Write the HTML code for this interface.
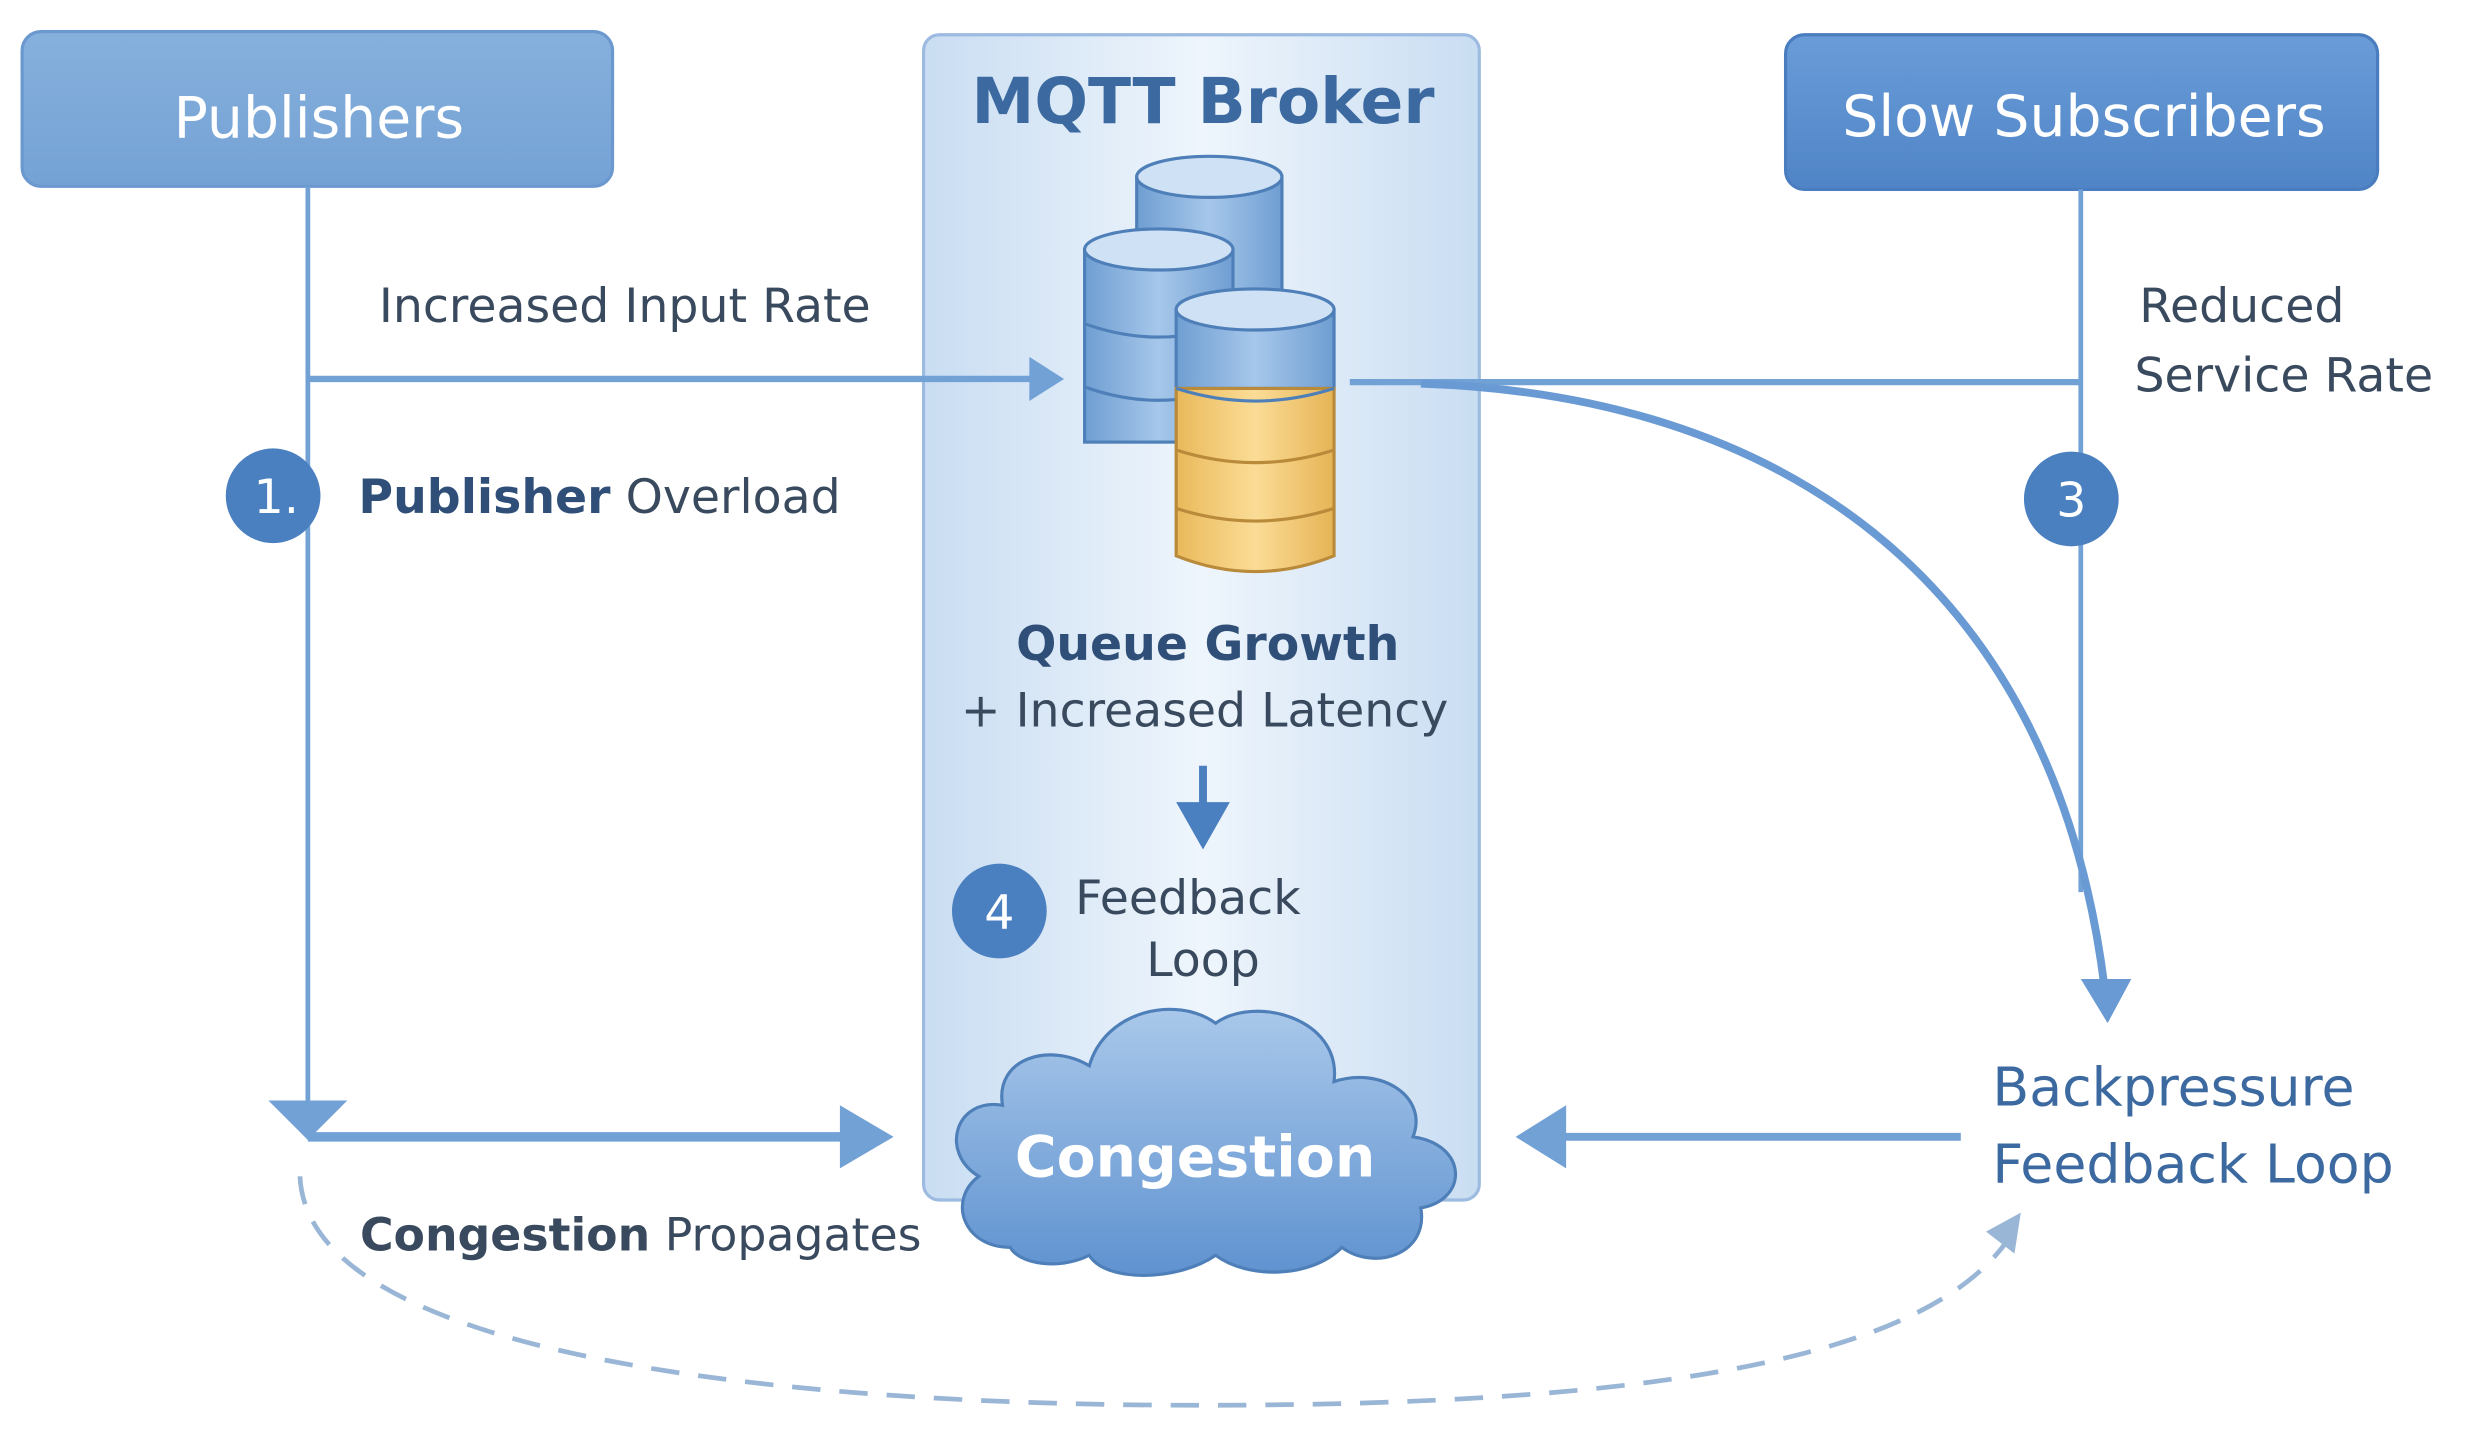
<!DOCTYPE html>
<html><head><meta charset="utf-8"><style>
html,body{margin:0;padding:0;background:#fff;}
svg{display:block;}
text{font-family:"DejaVu Sans","Liberation Sans",sans-serif;}
</style></head><body>
<svg width="2466" height="1440" viewBox="0 0 1562 912" preserveAspectRatio="none" xmlns="http://www.w3.org/2000/svg">
<defs>
<linearGradient id="pub" x1="0" y1="0" x2="0" y2="1"><stop offset="0" stop-color="#86b0dc"/><stop offset="1" stop-color="#74a2d5"/></linearGradient>
<linearGradient id="sub" x1="0" y1="0" x2="0" y2="1"><stop offset="0" stop-color="#6a9cd8"/><stop offset="1" stop-color="#4f84c6"/></linearGradient>
<linearGradient id="panel" x1="0" y1="0" x2="1" y2="0"><stop offset="0" stop-color="#c9ddf2"/><stop offset="0.5" stop-color="#eef5fc"/><stop offset="1" stop-color="#c9ddf2"/></linearGradient>
<linearGradient id="cyl" x1="0" y1="0" x2="1" y2="0"><stop offset="0" stop-color="#6f9ed2"/><stop offset="0.5" stop-color="#a6c7ea"/><stop offset="1" stop-color="#6f9ed2"/></linearGradient>
<linearGradient id="yel" x1="0" y1="0" x2="1" y2="0"><stop offset="0" stop-color="#e9b95a"/><stop offset="0.5" stop-color="#fbdc96"/><stop offset="1" stop-color="#e6b456"/></linearGradient>
<linearGradient id="cloud" x1="0" y1="0" x2="0" y2="1"><stop offset="0" stop-color="#a9c8ea"/><stop offset="1" stop-color="#5f92d0"/></linearGradient>
</defs>
<rect x="585" y="22" width="352" height="738" rx="10" fill="url(#panel)" stroke="#9dbbe0" stroke-width="2"/>
<text x="762" y="78" font-size="40" font-weight="bold" fill="#3c6aa0" text-anchor="middle">MQTT Broker</text>
<rect x="14" y="20" width="374" height="98" rx="12" fill="url(#pub)" stroke="#6a98cf" stroke-width="2"/>
<text x="202" y="87" font-size="36" fill="#fff" text-anchor="middle">Publishers</text>
<rect x="1131" y="22" width="375" height="98" rx="12" fill="url(#sub)" stroke="#4a7dbf" stroke-width="2"/>
<text x="1320" y="86" font-size="36" fill="#fff" text-anchor="middle">Slow Subscribers</text>
<g stroke="#72a1d6" fill="none">
<line x1="195" y1="118" x2="195" y2="700" stroke-width="3"/>
<line x1="195" y1="240" x2="655" y2="240" stroke-width="4"/>
<line x1="855" y1="242" x2="1318" y2="242" stroke-width="4"/>
<line x1="1318" y1="120" x2="1318" y2="565" stroke-width="3"/>
<path d="M900 243 C1120 250 1300 360 1333 625" stroke-width="5" stroke="#6a9ad4"/>
<line x1="195" y1="720" x2="535" y2="720" stroke-width="6"/>
<line x1="990" y1="720" x2="1242" y2="720" stroke-width="5"/>
<line x1="762" y1="485" x2="762" y2="510" stroke-width="5" stroke="#4a7fc0"/>
<path d="M190 745 C195 860 500 890 760 890 C1050 890 1220 860 1272 785" stroke-width="3" stroke="#9ab6d6" stroke-dasharray="18 12"/>
</g>
<g fill="#72a1d6">
<polygon points="652,226 674,240 652,254"/>
<polygon points="170,697 220,697 195,722"/>
<polygon points="532,700 566,720 532,740"/>
<polygon points="992,700 960,720 992,740"/>
<polygon points="1318,620 1350,620 1335,648" fill="#6a9ad4"/>
<polygon points="745,508 779,508 762,538" fill="#4a7fc0"/>
<polygon points="1258,780 1280,768 1276,794" fill="#9ab6d6"/>
</g>
<g stroke="#4e7fb8" stroke-width="2">
<rect x="720" y="112" width="92" height="120" fill="url(#cyl)"/>
<ellipse cx="766" cy="112" rx="46" ry="13" fill="#cfe2f5"/>
<rect x="687" y="158" width="94" height="122" fill="url(#cyl)"/>
<path d="M687 205 Q734 222 781 205 M687 245 Q734 262 781 245" fill="none"/>
<ellipse cx="734" cy="158" rx="47" ry="13" fill="#cfe2f5"/>
<rect x="745" y="196" width="100" height="50" fill="url(#cyl)"/>
<path d="M745 246 L745 352 Q795 372 845 352 L845 246 Z" fill="url(#yel)" stroke="#b88a3a"/>
<path d="M745 246 Q795 262 845 246" fill="none" stroke="#4e7fb8"/>
<path d="M745 285 Q795 301 845 285 M745 322 Q795 338 845 322" fill="none" stroke="#b88a3a"/>
<ellipse cx="795" cy="196" rx="50" ry="13" fill="#cfe2f5"/>
</g>
<g fill="#4a7fc0"><circle cx="173" cy="314" r="30"/><circle cx="1312" cy="316" r="30"/><circle cx="633" cy="577" r="30"/></g>
<g fill="#fff" font-size="30" text-anchor="middle"><text x="175" y="325">1.</text><text x="1312" y="327">3</text><text x="633" y="588">4</text></g>
<path d="M640 790 C610 790 600 760 620 745 C595 730 605 695 635 700 C630 670 665 660 690 675 C700 640 745 630 770 648 C795 630 850 645 845 685 C875 675 905 695 895 720 C930 725 930 760 900 765 C905 795 870 805 850 790 C830 810 790 810 770 795 C745 812 700 812 690 795 C670 805 645 800 640 790 Z" fill="url(#cloud)" stroke="#4e7fb8" stroke-width="2"/>
<text x="757" y="745" font-size="36" font-weight="bold" fill="#fff" text-anchor="middle">Congestion</text>
<g fill="#3a4a5e" font-size="30">
<text x="240" y="204">Increased Input Rate</text>
<text x="227" y="325"><tspan font-weight="bold" fill="#2f4f78">Publisher</tspan> Overload</text>
<text x="1355" y="204">Reduced</text>
<text x="1352" y="248">Service Rate</text>
<text x="765" y="418" font-weight="bold" text-anchor="middle" fill="#2f4f78">Queue Growth</text>
<text x="763" y="460" text-anchor="middle">+ Increased Latency</text>
<text x="681" y="579">Feedback</text>
<text x="762" y="618" text-anchor="middle">Loop</text>
<text x="228" y="792" font-size="29"><tspan font-weight="bold">Congestion</tspan> Propagates</text>
</g>
<g fill="#3c6aa0" font-size="34">
<text x="1262" y="700">Backpressure</text>
<text x="1262" y="749">Feedback Loop</text>
</g>
</svg>
</body></html>
